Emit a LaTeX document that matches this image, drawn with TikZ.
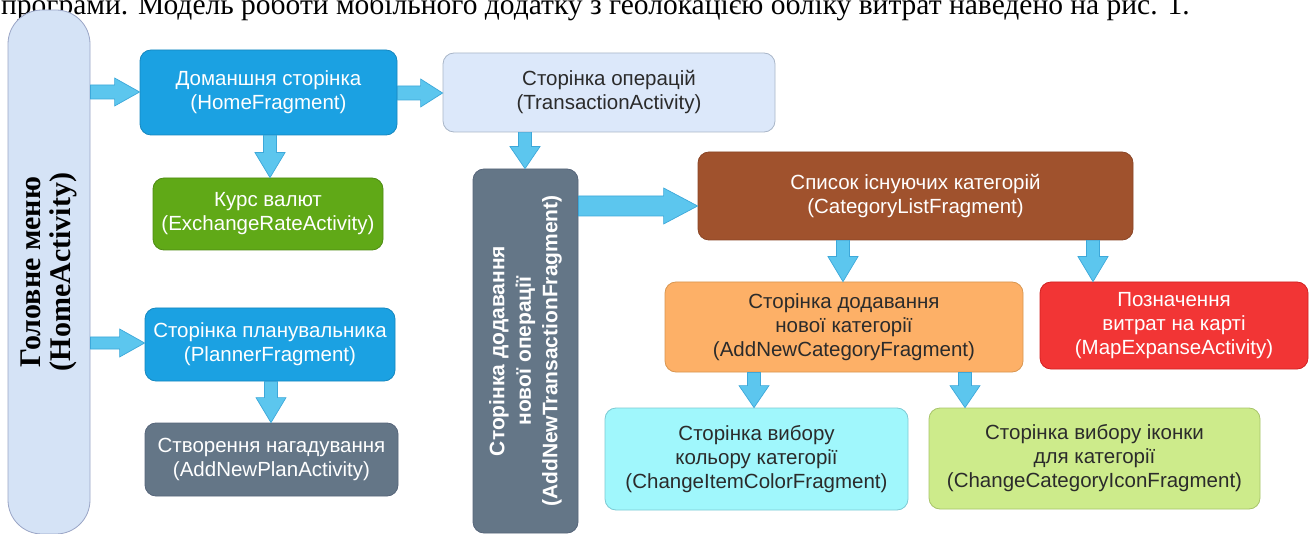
\documentclass[tikz,border=0pt]{standalone}
\usepackage{fontspec}
\setmainfont{Liberation Sans}
\newfontfamily\timesfont{Liberation Serif}
\usetikzlibrary{calc}
\definecolor{menufill}{HTML}{D5E3F6}
\definecolor{menuline}{HTML}{9AA5C6}
\definecolor{bluebox}{HTML}{1BA1E2}
\definecolor{blueline}{HTML}{1587BF}
\definecolor{greenbox}{HTML}{60A917}
\definecolor{greenline}{HTML}{4E8C12}
\definecolor{slate}{HTML}{647687}
\definecolor{slateline}{HTML}{56657A}
\definecolor{transfill}{HTML}{DCE8FA}
\definecolor{transline}{HTML}{A9B6C8}
\definecolor{brownbox}{HTML}{A0522D}
\definecolor{brownline}{HTML}{8A4526}
\definecolor{orangebox}{HTML}{FDB067}
\definecolor{orangeline}{HTML}{D99650}
\definecolor{redbox}{HTML}{F23535}
\definecolor{redline}{HTML}{D22020}
\definecolor{cyanbox}{HTML}{A0F7FC}
\definecolor{cyanline}{HTML}{7CCAD4}
\definecolor{lgreenbox}{HTML}{CDEB8B}
\definecolor{lgreenline}{HTML}{A8C46A}
\definecolor{arrowfill}{HTML}{5CC6EE}
\definecolor{arrowline}{HTML}{3DA8DA}
\definecolor{darktext}{HTML}{2B2B2B}

% horizontal block arrow: from anchor, to anchor, y (px), shaft half, head half, head length
\newcommand\hblock[6]{%
  \path[blockarrow] let \p1=(#1), \p2=(#2) in
   (\x1,{-#3pt+#4pt}) -- ({\x2-#6pt},{-#3pt+#4pt}) -- ({\x2-#6pt},{-#3pt+#5pt})
   -- (\x2,{-#3pt}) -- ({\x2-#6pt},{-#3pt-#5pt}) -- ({\x2-#6pt},{-#3pt-#4pt})
   -- (\x1,{-#3pt-#4pt}) -- cycle;}
% vertical block arrow: from anchor, to anchor, x (px), shaft half, head half, head length
\newcommand\vblock[6]{%
  \path[blockarrow] let \p1=(#1), \p2=(#2) in
   ({#3pt-#4pt},\y1) -- ({#3pt-#4pt},{\y2+#6pt}) -- ({#3pt-#5pt},{\y2+#6pt})
   -- (#3pt,\y2) -- ({#3pt+#5pt},{\y2+#6pt}) -- ({#3pt+#4pt},{\y2+#6pt})
   -- ({#3pt+#4pt},\y1) -- cycle;}

\begin{document}
\begin{tikzpicture}[x=1pt,y=1pt,
  box/.style={rounded corners=11pt, inner sep=0pt, align=center,
    font=\fontsize{20.5}{24}\selectfont, line width=0.8pt},
  bluestyle/.style={box, fill=bluebox, draw=blueline, text=white},
  blockarrow/.style={fill=arrowfill, draw=arrowline, line width=0.7pt, line join=miter}]
\useasboundingbox (0,0) rectangle (1311,-534);
\fill[white] (0,0) rectangle (1311,-534);

\begin{scope}
\clip (0,0) rectangle (1311,-534);
\node[anchor=base west, inner sep=0pt, font=\timesfont\fontsize{29.5}{29.5}\selectfont] (hdr) at (1,-15)
  {програми. Модель роботи мобільного додатку з геолокацією обліку витрат наведено на рис. 1.};

\node[box, rotate=90, rounded corners=34pt, minimum width=524pt, minimum height=82pt,
  fill=menufill, draw=menuline, font=\timesfont\bfseries\fontsize{30}{30}\selectfont]
  (main) at (49,-272) {Головне меню\\(HomeActivity)};

\node[bluestyle, minimum width=257pt, minimum height=85pt] (home) at (268.5,-92.5)
  {Доманшня сторінка\\(HomeFragment)};
\node[box, fill=greenbox, draw=greenline, text=white, minimum width=230pt, minimum height=72pt]
  (exch) at (268,-214) {Курс валют\\(ExchangeRateActivity)};
\node[bluestyle, minimum width=250pt, minimum height=73pt] (plan) at (270,-344.5)
  {Сторінка планувальника\\(PlannerFragment)};
\node[box, fill=slate, draw=slateline, text=white, minimum width=253pt, minimum height=73pt]
  (aplan) at (271.5,-459.5) {Створення нагадування\\(AddNewPlanActivity)};

\node[box, fill=transfill, draw=transline, text=darktext, minimum width=332pt, minimum height=79pt]
  (trans) at (609,-92.5) {Сторінка операцій\\(TransactionActivity)};
\node[box, rotate=90, minimum width=364pt, minimum height=105pt, fill=slate, draw=slateline,
  text=white, font=\bfseries\fontsize{21}{26.5}\selectfont]
  (atrans) at (525.5,-351) {Сторінка додавання\\нової операції\\(AddNewTransactionFragment)};

\node[box, fill=brownbox, draw=brownline, text=white, minimum width=435pt, minimum height=88pt]
  (cat) at (915.5,-196) {Список існуючих категорій\\(CategoryListFragment)};
\node[box, fill=orangebox, draw=orangeline, text=darktext, minimum width=358pt, minimum height=90pt]
  (anc) at (844,-327) {Сторінка додавання\\нової категорії\\(AddNewCategoryFragment)};
\node[box, fill=redbox, draw=redline, text=white, minimum width=268pt, minimum height=87pt]
  (map) at (1174,-325.5) {Позначення\\витрат на карті\\(MapExpanseActivity)};
\node[box, fill=cyanbox, draw=cyanline, text=darktext, minimum width=303pt, minimum height=102pt]
  (color) at (756.5,-459) {Сторінка вибору\\кольору категорії\\(ChangeItemColorFragment)};
\node[box, fill=lgreenbox, draw=lgreenline, text=darktext, minimum width=331pt, minimum height=101pt]
  (icon) at (1094.5,-458.5) {Сторінка вибору іконки\\для категорії\\(ChangeCategoryIconFragment)};

% connectors
\hblock{main.south}{home.west}{92}{7}{14}{25}
\hblock{main.south}{plan.west}{343}{6}{14}{25}
\hblock{home.east}{trans.west}{93}{7}{14}{22}
\hblock{atrans.south}{cat.west}{206}{10}{18}{34}
\vblock{home.south}{exch.north}{270}{6.5}{15}{25}
\vblock{plan.south}{aplan.north}{271}{6.5}{15}{25}
\vblock{trans.south}{atrans.east}{525}{6.5}{15}{22}
\vblock{cat.south}{anc.north}{843}{6.5}{15}{25}
\vblock{cat.south}{map.north}{1093}{6.5}{15}{25}
\vblock{anc.south}{color.north}{754}{6.5}{15}{22}
\vblock{anc.south}{icon.north}{965}{6.5}{15}{22}
\end{scope}
\end{tikzpicture}
\end{document}
